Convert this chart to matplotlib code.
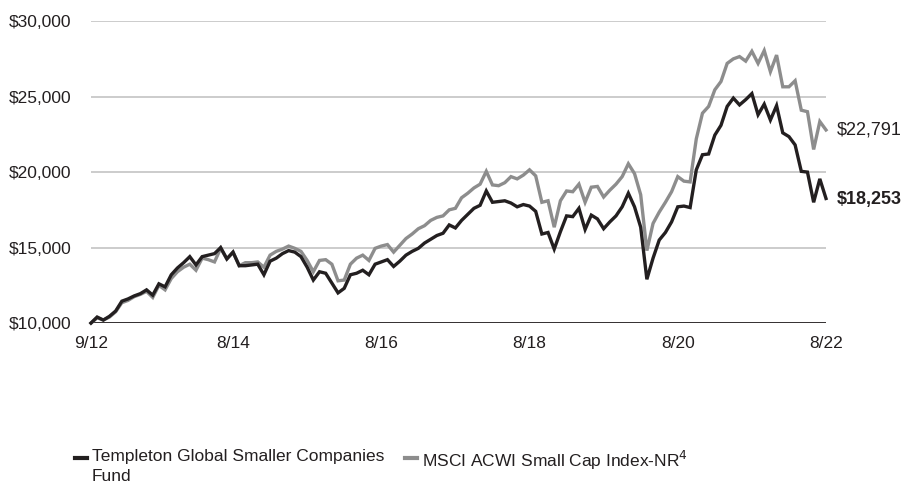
import matplotlib.pyplot as plt
from matplotlib.lines import Line2D

plt.rcParams['font.family'] = ['Liberation Sans Narrow', 'Liberation Sans', 'DejaVu Sans']

# month-end values, 9/12 .. 8/22 (thousands of $)
fund = [10.0, 10.4, 10.2, 10.45, 10.8, 11.45, 11.6, 11.8, 11.95, 12.2,
        11.85, 12.6, 12.4, 13.2, 13.65, 14.0, 14.4, 13.85, 14.4, 14.5,
        14.6, 15.0, 14.25, 14.7, 13.8, 13.8, 13.85, 13.9, 13.2, 14.1,
        14.3, 14.6, 14.8, 14.7, 14.4, 13.7, 12.85, 13.4, 13.3, 12.65,
        12.0, 12.3, 13.2, 13.3, 13.5, 13.2, 13.9, 14.05, 14.2, 13.75,
        14.1, 14.5, 14.75, 14.95, 15.3, 15.55, 15.8, 15.95, 16.5, 16.3,
        16.8, 17.2, 17.6, 17.8, 18.75, 18.0, 18.05, 18.1, 17.95, 17.7,
        17.85, 17.75, 17.4, 15.9, 16.0, 14.9, 16.05, 17.1, 17.05, 17.6,
        16.2, 17.15, 16.9, 16.25, 16.7, 17.1, 17.7, 18.6, 17.7, 16.35,
        12.9, 14.3, 15.5, 16.0, 16.7, 17.7, 17.75, 17.65, 20.15, 21.15,
        21.2, 22.45, 23.1, 24.35, 24.9, 24.45, 24.8, 25.2, 23.8, 24.5,
        23.45, 24.4, 22.6, 22.35, 21.8, 20.05, 20.0, 18.0, 19.55, 18.253]

index = [10.0, 10.35, 10.2, 10.4, 10.75, 11.35, 11.5, 11.75, 11.9, 12.1,
         11.7, 12.5, 12.2, 12.95, 13.4, 13.7, 13.9, 13.5, 14.3, 14.2,
         14.05, 14.95, 14.25, 14.7, 13.8, 14.0, 14.0, 14.05, 13.7, 14.5,
         14.75, 14.9, 15.1, 14.95, 14.75, 14.15, 13.4, 14.15, 14.2, 13.9,
         12.8, 12.85, 13.9, 14.3, 14.5, 14.15, 14.95, 15.1, 15.2, 14.7,
         15.15, 15.6, 15.9, 16.25, 16.45, 16.8, 17.0, 17.1, 17.5, 17.6,
         18.3, 18.6, 18.95, 19.2, 20.05, 19.15, 19.1, 19.3, 19.7, 19.55,
         19.8, 20.15, 19.75, 18.0, 18.1, 16.35, 18.1, 18.75, 18.7, 19.2,
         18.0, 19.0, 19.05, 18.35, 18.8, 19.2, 19.7, 20.55, 19.9, 18.5,
         14.8, 16.6, 17.35, 18.0, 18.7, 19.7, 19.4, 19.35, 22.2, 23.9,
         24.35, 25.45, 26.0, 27.2, 27.5, 27.65, 27.35, 28.0, 27.2, 28.05,
         26.65, 27.75, 25.65, 25.65, 26.05, 24.1, 24.0, 21.5, 23.35, 22.791]

fund = [v * 1000 for v in fund]
index = [v * 1000 for v in index]
months = list(range(len(fund)))

tick_pos = [0, 23, 47, 71, 95, 119]
tick_labels = ['9/12', '8/14', '8/16', '8/18', '8/20', '8/22']
y_ticks = [10000, 15000, 20000, 25000, 30000]

fund_color = '#231f20'
index_color = '#8d8d8d'
text_color = '#231f20'

fig = plt.figure(figsize=(9.06, 4.91), dpi=100)
ax = fig.add_axes([0.1004, 0.342, 0.8113, 0.615])

for y in y_ticks[1:]:
    ax.axhline(y, color='#c4c4c4', lw=1.2, zorder=1)
ax.axhline(10000, color='#231f20', lw=1.3, zorder=1)

ax.plot(months, index, color=index_color, lw=2.4, zorder=3, clip_on=False,
        solid_joinstyle='miter')
ax.plot(months, fund, color=fund_color, lw=2.4, zorder=4, clip_on=False,
        solid_joinstyle='miter')

ax.set_xlim(0, 119)
ax.set_ylim(10000, 30000)
ax.set_xticks(tick_pos)
ax.set_xticklabels(tick_labels)
ax.set_yticks(y_ticks)
ax.set_yticklabels(['${:,}'.format(v) for v in y_ticks])
ax.tick_params(length=0, labelsize=12.5, colors=text_color)
ax.tick_params(axis='x', pad=9)
ax.tick_params(axis='y', pad=14)
for s in ax.spines.values():
    s.set_visible(False)

ax.annotate('$22,791', xy=(119, index[-1]), xytext=(8, 0),
            textcoords='offset points', va='center', ha='left',
            fontsize=13, color=text_color, annotation_clip=False)
ax.annotate('$18,253', xy=(119, fund[-1]), xytext=(8, -1),
            textcoords='offset points', va='center', ha='left',
            fontsize=13, fontweight='bold', color=text_color,
            annotation_clip=False)

# legend, laid out by hand so the marker sits on the first text line
W, H = 906, 491
legend_items = [
    (75, fund_color, 'Templeton Global Smaller Companies\nFund'),
    (405, index_color, 'MSCI ACWI Small Cap Index-NR$^4$'),
]
for x0, color, label in legend_items:
    fig.add_artist(Line2D([x0 / W, (x0 + 12) / W], [1 - 458 / H, 1 - 458 / H],
                          color=color, lw=3, transform=fig.transFigure))
    fig.text((x0 + 17) / W, 1 - 449 / H, label, ha='left', va='top',
             fontsize=12.5, color=text_color, linespacing=1.45)

fig.savefig('out.png', dpi=100)
